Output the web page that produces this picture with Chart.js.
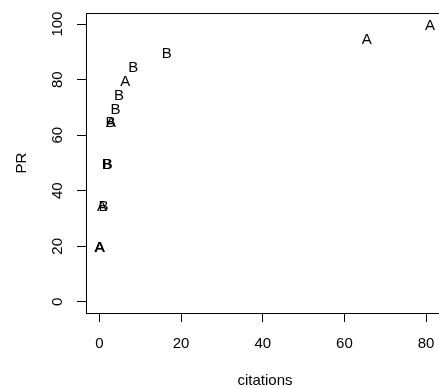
<!DOCTYPE html>
<html><head><meta charset="utf-8">
<script src="https://cdn.jsdelivr.net/npm/chart.js@4/dist/chart.umd.min.js"></script>
<style>
html,body{margin:0;padding:0;overflow:hidden;background:#fff;}
#wrap{width:460px;height:388px;}
</style>
</head><body>
<div id="wrap"><canvas id="c" width="460" height="388"></canvas></div>
<script>
// Data
const pointLabels = ['A','A','B','B','A','B','B','B','A','B','B','A','B','A','A','A'];
const citations   = [81, 65.5, 16.5, 8.3, 6.3, 4.8, 3.9, 2.7, 2.8, 1.8, 2.0, 0.6, 1.0, 0.0, 0.1, 0.0];
const pr          = [100, 95, 90, 85, 80, 75, 70, 65, 65, 50, 50, 35, 35, 20, 20, 20];
const xTicks = [0, 20, 40, 60, 80];
const yTicks = [0, 20, 40, 60, 80, 100];
const xTitle = 'citations';
const yTitle = 'PR';

const FONT = "'Liberation Sans', Arial, Helvetica, sans-serif";

const rStyle = {
  id: 'rStyle',
  afterDraw(chart) {
    const ctx = chart.ctx;
    const a = chart.chartArea;
    ctx.save();
    // plot box
    ctx.strokeStyle = '#000';
    ctx.lineWidth = 1;
    ctx.strokeRect(Math.round(a.left) + 0.5, Math.round(a.top) + 0.5,
                   Math.round(a.right - a.left), Math.round(a.bottom - a.top));
    // y tick labels, rotated like R
    const ys = chart.scales.y;
    ctx.fillStyle = '#000';
    ctx.font = '15px ' + FONT;
    ctx.textAlign = 'center';
    ctx.textBaseline = 'middle';
    ys.ticks.forEach(t => {
      const py = ys.getPixelForValue(t.value);
      ctx.save();
      ctx.translate(ys.right - 28, py);
      ctx.rotate(-Math.PI / 2);
      ctx.fillText(String(t.value), 0, 0);
      ctx.restore();
    });
    // text markers at each point
    const meta = chart.getDatasetMeta(0);
    meta.data.forEach((el, i) => {
      ctx.fillText(pointLabels[i], el.x, el.y + 2);
    });
    ctx.restore();
  }
};

new Chart(document.getElementById('c'), {
  type: 'scatter',
  data: {
    datasets: [{
      data: citations.map((x, i) => ({x: x, y: pr[i]})),
      pointRadius: 0,
      pointHoverRadius: 0,
      showLine: false
    }]
  },
  options: {
    responsive: false,
    animation: false,
    devicePixelRatio: 1,
    layout: {padding: {left: 13, right: 16, top: 13, bottom: 0}},
    plugins: {legend: {display: false}, tooltip: {enabled: false}},
    scales: {
      x: {
        type: 'linear',
        min: -3.3, max: 84.4,
        afterBuildTicks: s => { s.ticks = xTicks.map(v => ({value: v})); },
        afterFit: s => { s.height = 75; },
        grid: {drawOnChartArea: false, drawTicks: true, tickLength: 9, color: '#000', lineWidth: 1},
        border: {display: false},
        ticks: {color: '#000', font: {family: FONT, size: 15}, padding: 13, maxRotation: 0, autoSkip: false},
        title: {display: true, text: xTitle, color: '#000', font: {family: FONT, size: 15}, padding: {top: 0, bottom: -2}}
      },
      y: {
        type: 'linear',
        min: -4, max: 104,
        afterBuildTicks: s => { s.ticks = yTicks.map(v => ({value: v})); },
        afterFit: s => { s.width = 73; },
        grid: {drawOnChartArea: false, drawTicks: true, tickLength: 9, color: '#000', lineWidth: 1},
        border: {display: false},
        ticks: {display: false},
        title: {display: true, text: yTitle, color: '#000', font: {family: FONT, size: 15}, padding: {top: 0, bottom: 0}}
      }
    }
  },
  plugins: [rStyle]
});
</script>
</body></html>
